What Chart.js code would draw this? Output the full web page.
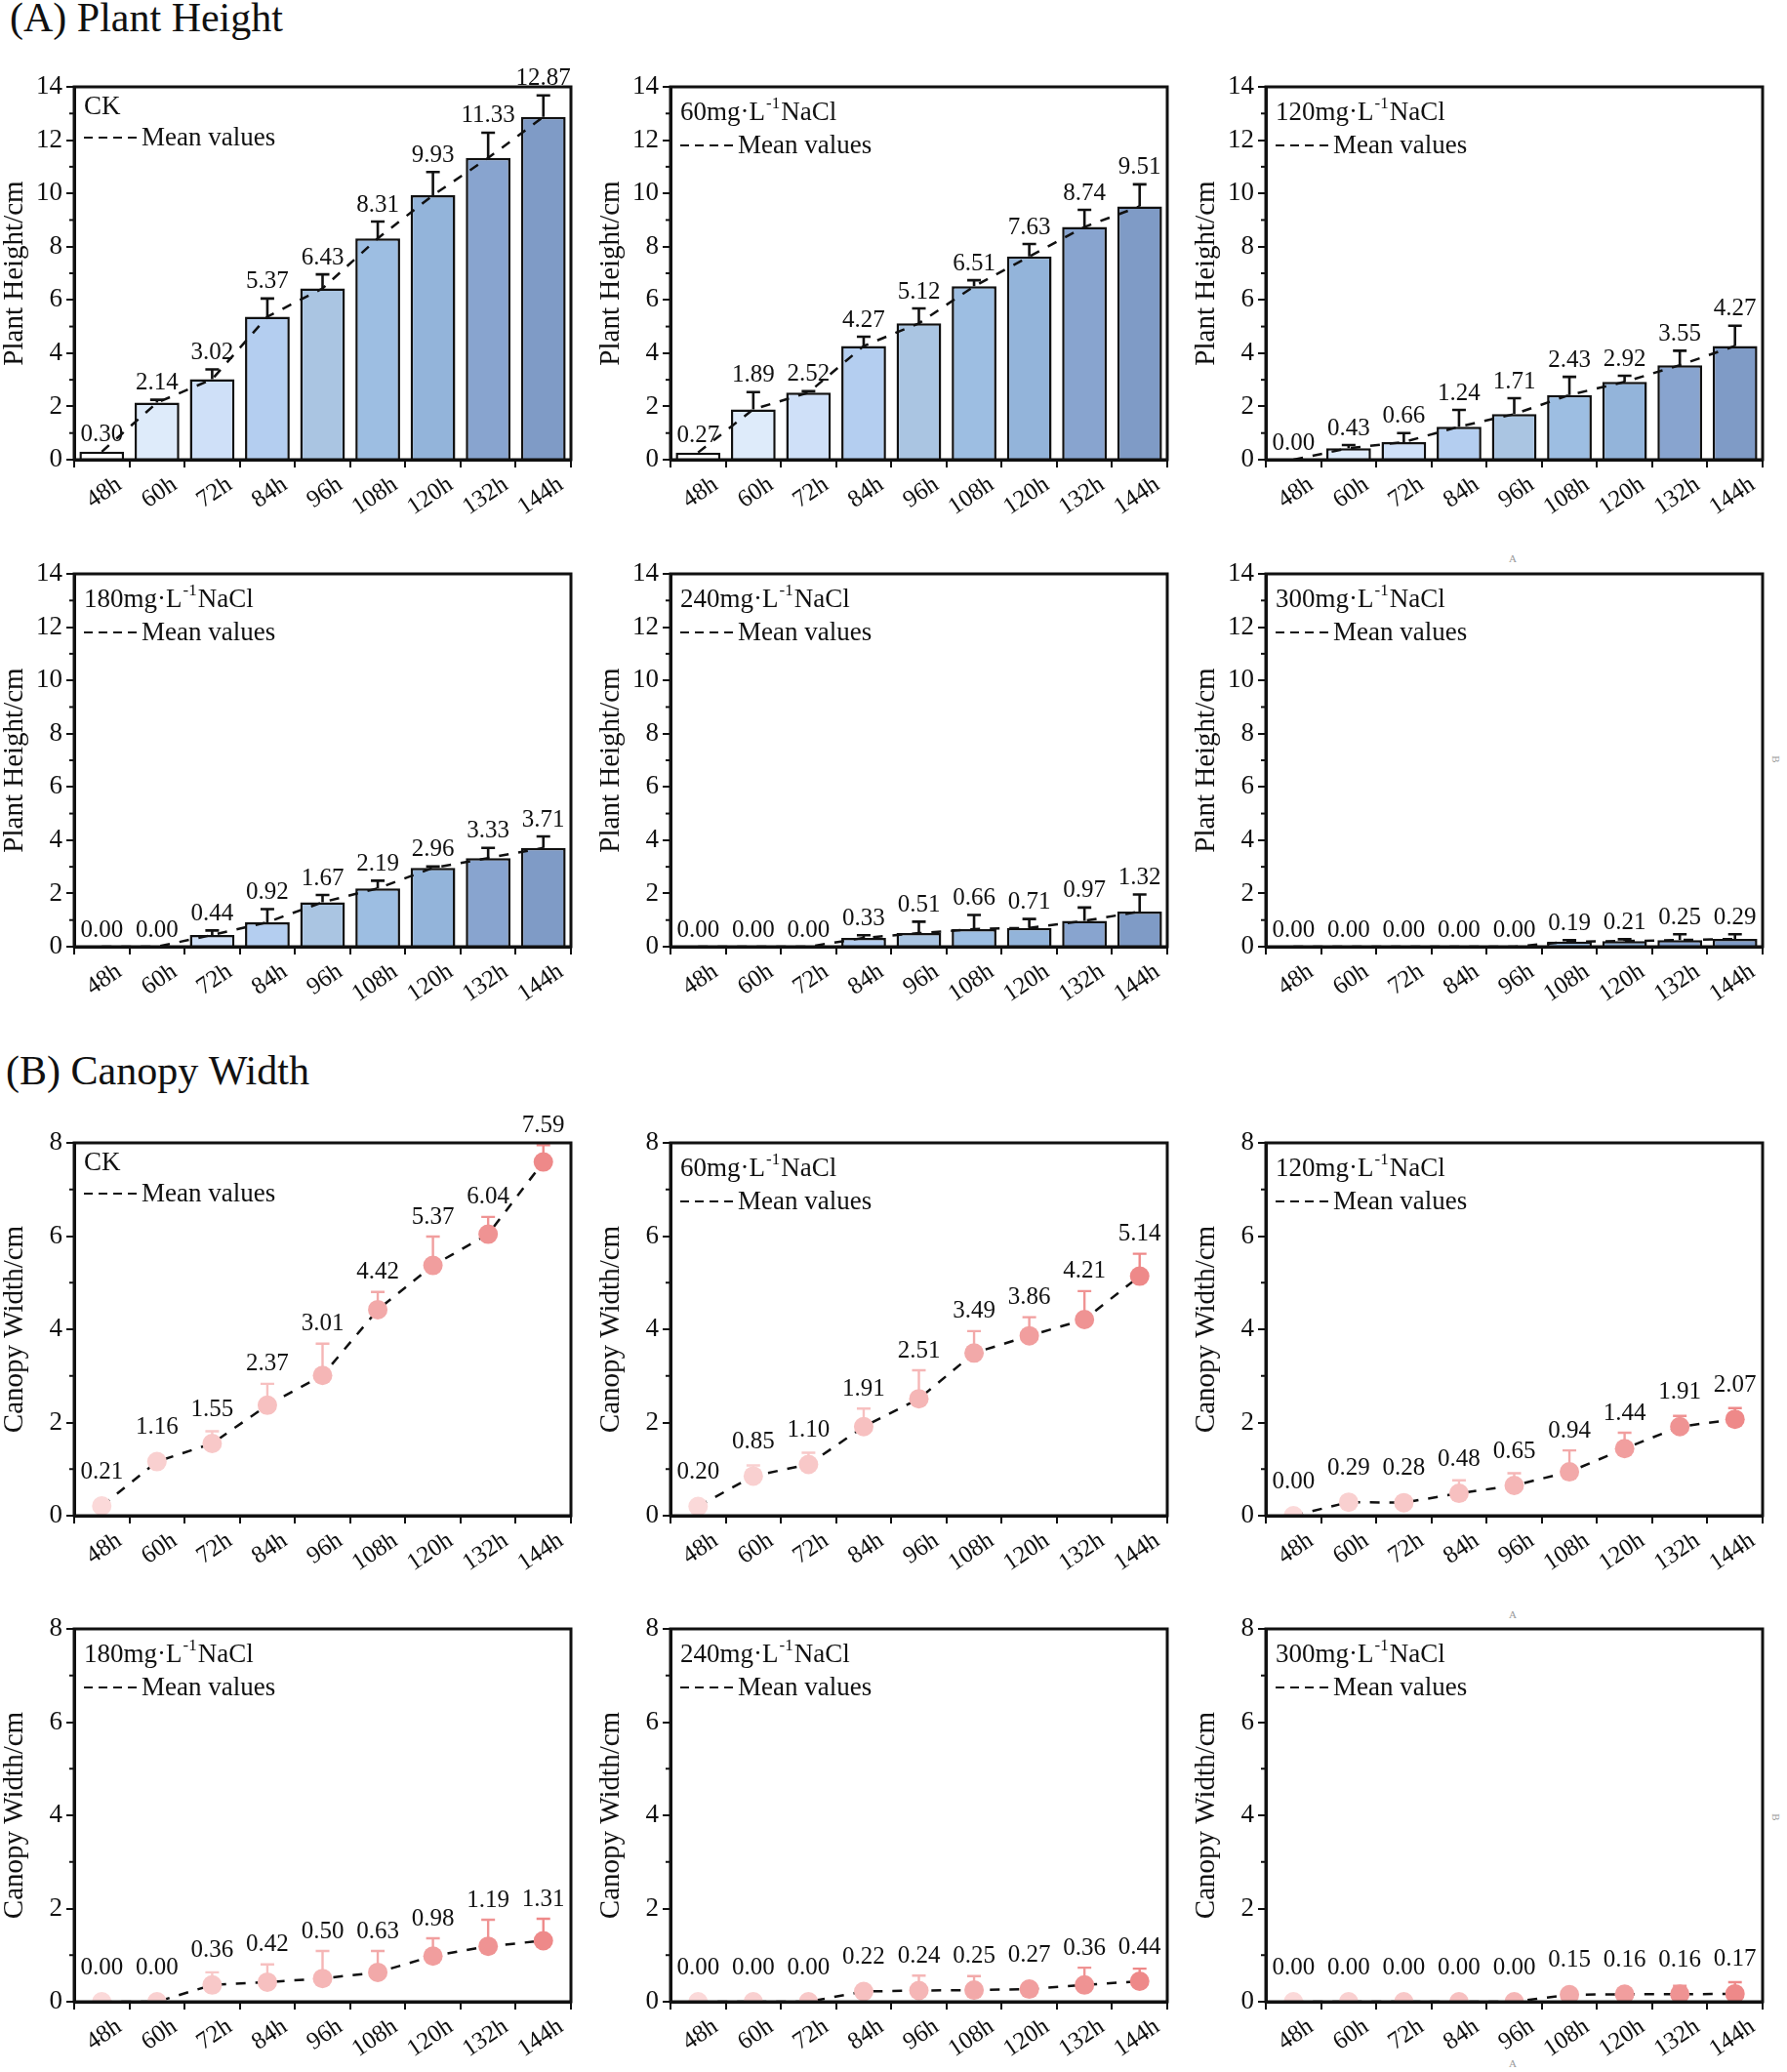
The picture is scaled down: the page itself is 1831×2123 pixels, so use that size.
<!DOCTYPE html>
<html>
<head>
<meta charset="utf-8">
<script src="https://cdn.jsdelivr.net/npm/chart.js@4.4.1/dist/chart.umd.min.js"></script>
<style>
  body { margin: 0; background: #fff; width: 1831px; height: 2123px; position: relative; overflow: hidden;
         font-family: 'Liberation Serif', 'Times New Roman', serif; color: #111; }
  .box { position: absolute; }
  .sec { position: absolute; font-size: 42px; white-space: nowrap; }
  .mark { position: absolute; font-size: 11px; color: #999; }
</style>
</head>
<body>
<div class="sec" style="left:10px;top:-6px">(A) Plant Height</div>
<div class="sec" style="left:6px;top:1073px">(B) Canopy&nbsp;Width</div>
<div class="mark" style="left:1546px;top:566px">A</div>
<div class="mark" style="left:1816px;top:772px;transform:rotate(90deg)">B</div>
<div class="mark" style="left:1546px;top:1648px">A</div>
<div class="mark" style="left:1816px;top:1856px;transform:rotate(90deg)">B</div>
<div class="mark" style="left:1546px;top:2108px">A</div>
<script>
// categories and groups
const hours = ['48h', '60h', '72h', '84h', '96h', '108h', '120h', '132h', '144h'];
const groups = ['CK', '60', '120', '180', '240', '300'];
const heightTicks = [0, 2, 4, 6, 8, 10, 12, 14];
const widthTicks = [0, 2, 4, 6, 8];

// (A) plant height, mean and upper error
const heightCK = [0.30, 2.14, 3.02, 5.37, 6.43, 8.31, 9.93, 11.33, 12.87];
const heightCKErr = [0, 0.11, 0.37, 0.68, 0.53, 0.63, 0.87, 0.95, 0.81];
const height60 = [0.27, 1.89, 2.52, 4.27, 5.12, 6.51, 7.63, 8.74, 9.51];
const height60Err = [0, 0.65, 0.05, 0.35, 0.56, 0.23, 0.47, 0.64, 0.83];
const height120 = [0.00, 0.43, 0.66, 1.24, 1.71, 2.43, 2.92, 3.55, 4.27];
const height120Err = [0, 0.12, 0.34, 0.63, 0.60, 0.68, 0.23, 0.54, 0.76];
const height180 = [0.00, 0.00, 0.44, 0.92, 1.67, 2.19, 2.96, 3.33, 3.71];
const height180Err = [0, 0, 0.17, 0.49, 0.27, 0.29, 0.05, 0.38, 0.43];
const height240 = [0.00, 0.00, 0.00, 0.33, 0.51, 0.66, 0.71, 0.97, 1.32];
const height240Err = [0, 0, 0, 0.10, 0.43, 0.53, 0.33, 0.50, 0.64];
const height300 = [0.00, 0.00, 0.00, 0.00, 0.00, 0.19, 0.21, 0.25, 0.29];
const height300Err = [0, 0, 0, 0, 0, 0.06, 0.07, 0.22, 0.18];

// (B) canopy width, mean and upper error
const widthCK = [0.21, 1.16, 1.55, 2.37, 3.01, 4.42, 5.37, 6.04, 7.59];
const widthCKErr = [0, 0, 0.26, 0.46, 0.68, 0.38, 0.62, 0.37, 0.36];
const width60 = [0.20, 0.85, 1.10, 1.91, 2.51, 3.49, 3.86, 4.21, 5.14];
const width60Err = [0, 0.23, 0.25, 0.39, 0.61, 0.47, 0.40, 0.61, 0.48];
const width120 = [0.00, 0.29, 0.28, 0.48, 0.65, 0.94, 1.44, 1.91, 2.07];
const width120Err = [0, 0, 0, 0.28, 0.26, 0.46, 0.34, 0.23, 0.24];
const width180 = [0.00, 0.00, 0.36, 0.42, 0.50, 0.63, 0.98, 1.19, 1.31];
const width180Err = [0, 0, 0.27, 0.38, 0.59, 0.46, 0.38, 0.57, 0.47];
const width240 = [0.00, 0.00, 0.00, 0.22, 0.24, 0.25, 0.27, 0.36, 0.44];
const width240Err = [0, 0, 0, 0, 0.32, 0.30, 0, 0.37, 0.27];
const width300 = [0.00, 0.00, 0.00, 0.00, 0.00, 0.15, 0.16, 0.16, 0.17];
const width300Err = [0, 0, 0, 0, 0, 0, 0, 0.18, 0.25];

const heightSets = [[heightCK, heightCKErr], [height60, height60Err], [height120, height120Err],
                    [height180, height180Err], [height240, height240Err], [height300, height300Err]];
const widthSets = [[widthCK, widthCKErr], [width60, width60Err], [width120, width120Err],
                   [width180, width180Err], [width240, width240Err], [width300, width300Err]];

// styles
const barColors = ['#ffffff', '#deebfa', '#cfe0f8', '#b4cef0', '#aac5e2', '#9dbee2', '#93b4da', '#88a4cf', '#7f9bc6'];
const dotColors = ['#fbd9d9', '#f9d0d0', '#f8c8c8', '#f7c0c0', '#f5b6b6', '#f2a9a9', '#f19e9e', '#ef9393', '#ee8989'];
const FONT = "'Liberation Serif', 'Times New Roman', serif";
const PLOT_W = 509, PLOT_H = 382;
const COL_X = [76, 687, 1297];
const ROW_Y = [89, 588, 1171, 1669];
const AX = 78, PT = 45, PR = 22, PB = 80;

Chart.defaults.font.family = FONT;
Chart.defaults.color = '#111';

// frame, minor ticks, error bars, value labels, inset legend
const decor = {
  id: 'decor',
  beforeDatasetsDraw(chart) {
    const o = chart.options.plugins.decor;
    const ctx = chart.ctx, xs = chart.scales.x, ys = chart.scales.y;
    ctx.save();
    ctx.strokeStyle = '#111';
    ctx.lineWidth = o.bar ? 2.6 : 2.4;
    o.values.forEach((v, j) => {
      const e = o.errors[j];
      if (!e) return;
      const x = xs.getPixelForValue(j);
      const y0 = ys.getPixelForValue(v), y1 = ys.getPixelForValue(v + e);
      if (!o.bar) ctx.strokeStyle = dotColors[j];
      ctx.beginPath();
      ctx.moveTo(x, y0); ctx.lineTo(x, y1);
      ctx.moveTo(x - 7, y1); ctx.lineTo(x + 7, y1);
      ctx.stroke();
    });
    ctx.restore();
  },
  afterDraw(chart) {
    const o = chart.options.plugins.decor;
    const ctx = chart.ctx, a = chart.chartArea, xs = chart.scales.x, ys = chart.scales.y;
    ctx.save();
    // minor ticks on y
    ctx.strokeStyle = '#111';
    ctx.lineWidth = 2;
    for (let v = 1; v < ys.max; v += 2) {
      const y = ys.getPixelForValue(v);
      ctx.beginPath(); ctx.moveTo(a.left - 5, y); ctx.lineTo(a.left, y); ctx.stroke();
    }
    // frame
    ctx.lineWidth = 3;
    ctx.strokeRect(a.left, a.top, a.right - a.left, a.bottom - a.top);
    // value labels
    ctx.fillStyle = '#111';
    ctx.font = '25px ' + FONT;
    ctx.textAlign = 'center';
    ctx.textBaseline = 'middle';
    o.values.forEach((v, j) => {
      const x = xs.getPixelForValue(j);
      const yv = ys.getPixelForValue(v), ye = ys.getPixelForValue(v + o.errors[j]);
      const y = o.bar ? ye - 17 : Math.min(yv - 35, ye - 20);
      ctx.fillText(v.toFixed(2), x, y);
    });
    // inset legend
    const ck = o.group === 'CK';
    const l1 = a.top + (ck ? 21 : 27), l2 = a.top + (ck ? 52 : 60);
    ctx.textAlign = 'left';
    ctx.font = '27px ' + FONT;
    let x = a.left + 10;
    if (ck) {
      ctx.fillText('CK', x, l1);
    } else {
      const s1 = o.group + 'mg\u00b7L';
      ctx.fillText(s1, x, l1);
      x += ctx.measureText(s1).width + 1;
      ctx.font = '17px ' + FONT;
      ctx.fillText('-1', x, l1 - 9);
      x += ctx.measureText('-1').width + 1;
      ctx.font = '27px ' + FONT;
      ctx.fillText('NaCl', x, l1);
    }
    ctx.strokeStyle = '#111';
    ctx.lineWidth = 2;
    ctx.setLineDash([9, 6]);
    ctx.beginPath(); ctx.moveTo(a.left + 10, l2); ctx.lineTo(a.left + 64, l2); ctx.stroke();
    ctx.setLineDash([]);
    ctx.fillText('Mean values', a.left + 69, l2 + 1);
    ctx.restore();
  }
};

function makeChart(left, top, kind, group, values, errors) {
  const bar = kind === 'bar';
  const box = document.createElement('div');
  box.className = 'box';
  box.style.left = (left - AX) + 'px';
  box.style.top = (top - PT) + 'px';
  box.style.width = (AX + PLOT_W + PR) + 'px';
  box.style.height = (PT + PLOT_H + PB) + 'px';
  const cv = document.createElement('canvas');
  box.appendChild(cv);
  document.body.appendChild(box);

  const mean = { type: 'line', data: values, borderColor: '#111', borderWidth: 2.5, borderDash: [10, 10],
                 pointRadius: 0, fill: false, tension: 0, order: bar ? 1 : 2 };
  const datasets = bar ? [
    { type: 'bar', data: values, backgroundColor: barColors, borderColor: '#111', borderWidth: 2.5,
      barPercentage: 0.81, categoryPercentage: 1, order: 2 },
    mean
  ] : [
    mean,
    { type: 'line', data: values, showLine: false, pointRadius: 10, pointHoverRadius: 10,
      pointBackgroundColor: dotColors, pointBorderWidth: 0, order: 1, clip: 0 }
  ];
  const ticks = bar ? heightTicks : widthTicks;

  new Chart(cv, {
    type: bar ? 'bar' : 'line',
    data: { labels: hours, datasets: datasets },
    options: {
      responsive: true,
      maintainAspectRatio: false,
      animation: false,
      events: [],
      layout: { padding: { top: PT, right: PR, left: 0, bottom: 0 } },
      plugins: {
        legend: { display: false },
        tooltip: { enabled: false },
        decor: { bar: bar, group: group, values: values, errors: errors }
      },
      scales: {
        x: {
          type: 'category',
          offset: true,
          grid: { offset: true, drawOnChartArea: false, color: '#111', lineWidth: 2, tickLength: 8 },
          border: { color: '#111', width: 3 },
          ticks: { font: { size: 25 }, color: '#111', minRotation: 34, maxRotation: 34,
                   labelOffset: 18, padding: 3, autoSkip: false },
          afterFit: (s) => { s.height = PB; }
        },
        y: {
          min: ticks[0],
          max: ticks[ticks.length - 1],
          afterBuildTicks: (s) => { s.ticks = ticks.map(v => ({ value: v })); },
          grid: { drawOnChartArea: false, color: '#111', lineWidth: 2, tickLength: 8 },
          border: { color: '#111', width: 3 },
          ticks: { font: { size: 27 }, color: '#111', padding: 4 },
          title: { display: true, text: bar ? 'Plant Height/cm' : 'Canopy Width/cm',
                   font: { size: 29 }, color: '#111', padding: 0 },
          afterFit: (s) => { s.width = AX; }
        }
      }
    },
    plugins: [decor]
  });
}

groups.forEach((g, i) => {
  const col = i % 3, row = Math.floor(i / 3);
  makeChart(COL_X[col], ROW_Y[row], 'bar', g, heightSets[i][0], heightSets[i][1]);
  makeChart(COL_X[col], ROW_Y[row + 2], 'point', g, widthSets[i][0], widthSets[i][1]);
});
</script>
</body>
</html>
